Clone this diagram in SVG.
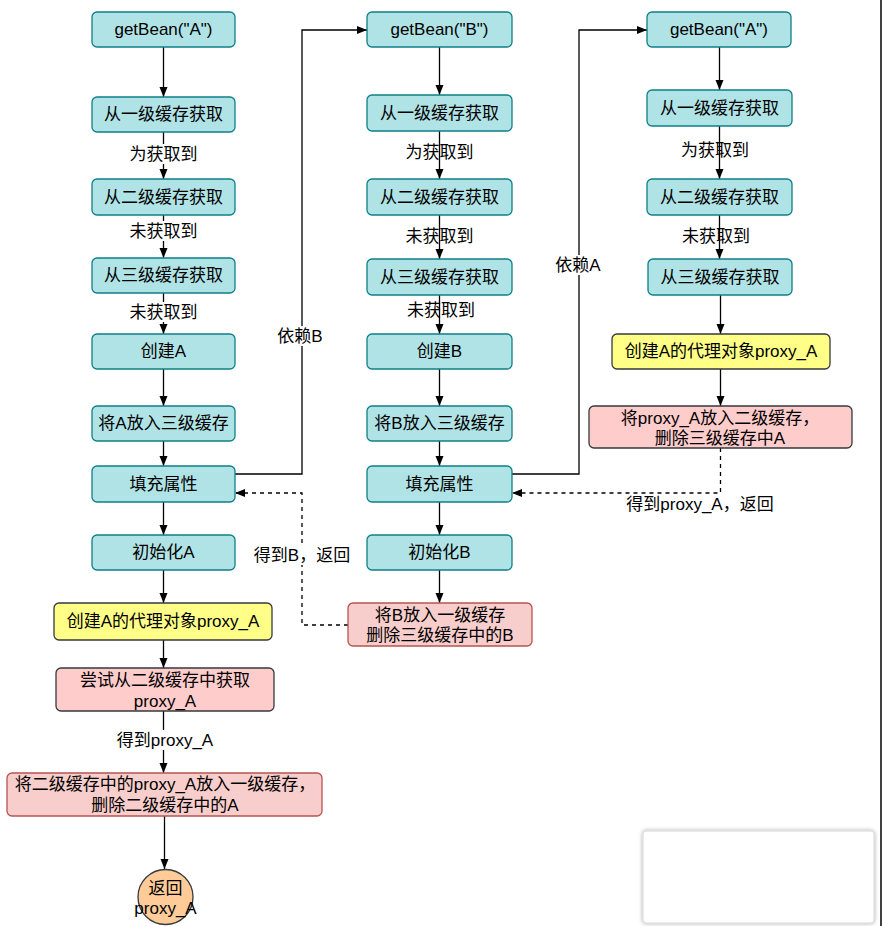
<svg xmlns="http://www.w3.org/2000/svg" width="882" height="926" viewBox="0 0 882 926">
  <style>
    text { font-family: "Liberation Sans", "Noto Sans CJK SC", sans-serif; font-size: 17px; fill: #000; text-anchor: middle; dominant-baseline: central; }
    .teal { fill: #b0e3e6; stroke: #0e8088; stroke-width: 1.3; }
    .yellow { fill: #ffff88; stroke: #36393d; stroke-width: 1.3; }
    .pink { fill: #ffcccc; stroke: #36393d; stroke-width: 1.3; }
    .rose { fill: #f8cecc; stroke: #b85450; stroke-width: 1.3; }
    .peach { fill: #ffcc99; stroke: #36393d; stroke-width: 1.3; }
    .edge { fill: none; stroke: #000; stroke-width: 1.3; }
    .dash { stroke-dasharray: 4 4; }
    .lbg { fill: #fff; }
  </style>
  <defs>
    <marker id="arrow" viewBox="0 0 10 10" refX="10" refY="5" markerWidth="10" markerHeight="10" markerUnits="userSpaceOnUse" orient="auto">
      <path d="M0,1 L10,5 L0,9 Z" fill="#000"/>
    </marker>
    <filter id="soft" x="-10%" y="-20%" width="120%" height="140%">
      <feGaussianBlur in="SourceAlpha" stdDeviation="2"/>
      <feComponentTransfer><feFuncA type="linear" slope="0.35"/></feComponentTransfer>
      <feMerge><feMergeNode/><feMergeNode in="SourceGraphic"/></feMerge>
    </filter>
  </defs>

  <rect x="0" y="0" width="882" height="926" fill="#fff"/>

  <!-- connectors -->
  <g id="connectors">
    <!-- left column -->
    <path class="edge" d="M163.5,47 V97" marker-end="url(#arrow)"/>
    <path class="edge" d="M163.5,132 V179" marker-end="url(#arrow)"/>
    <path class="edge" d="M163.5,215 V258" marker-end="url(#arrow)"/>
    <path class="edge" d="M163.5,293 V334" marker-end="url(#arrow)"/>
    <path class="edge" d="M163.5,369 V406" marker-end="url(#arrow)"/>
    <path class="edge" d="M163.5,441 V466" marker-end="url(#arrow)"/>
    <path class="edge" d="M163.5,502 V535" marker-end="url(#arrow)"/>
    <path class="edge" d="M163.5,570 V603" marker-end="url(#arrow)"/>
    <path class="edge" d="M163.5,640 V668" marker-end="url(#arrow)"/>
    <path class="edge" d="M163.5,711 V773" marker-end="url(#arrow)"/>
    <path class="edge" d="M164.5,816 V869" marker-end="url(#arrow)"/>
    <!-- middle column -->
    <path class="edge" d="M439.5,47 V95" marker-end="url(#arrow)"/>
    <path class="edge" d="M439.5,131 V179" marker-end="url(#arrow)"/>
    <path class="edge" d="M439.5,215 V259" marker-end="url(#arrow)"/>
    <path class="edge" d="M439.5,295 V334" marker-end="url(#arrow)"/>
    <path class="edge" d="M439.5,369 V406" marker-end="url(#arrow)"/>
    <path class="edge" d="M439.5,441 V466" marker-end="url(#arrow)"/>
    <path class="edge" d="M439.5,502 V535" marker-end="url(#arrow)"/>
    <path class="edge" d="M439.5,570 V603" marker-end="url(#arrow)"/>
    <!-- right column -->
    <path class="edge" d="M719.5,47 V90" marker-end="url(#arrow)"/>
    <path class="edge" d="M719.5,126 V179" marker-end="url(#arrow)"/>
    <path class="edge" d="M719.5,215 V259" marker-end="url(#arrow)"/>
    <path class="edge" d="M720.5,295 V334" marker-end="url(#arrow)"/>
    <path class="edge" d="M720.5,369 V406" marker-end="url(#arrow)"/>
    <!-- dependency calls -->
    <path class="edge" d="M235,474 H302 V30 H367" marker-end="url(#arrow)"/>
    <path class="edge" d="M512,474 H579 V30 H647" marker-end="url(#arrow)"/>
    <!-- returns -->
    <path class="edge dash" d="M348,625 H302 V493 H235" marker-end="url(#arrow)"/>
    <path class="edge dash" d="M720.5,448 V493 H512" marker-end="url(#arrow)"/>

    <!-- edge labels -->
    <rect class="lbg" x="128" y="144" width="70" height="20"/>
    <text x="163.5" y="154">为获取到</text>
    <rect class="lbg" x="128" y="221" width="70" height="20"/>
    <text x="163.5" y="231">未获取到</text>
    <rect class="lbg" x="128" y="302" width="70" height="20"/>
    <text x="163.5" y="312">未获取到</text>
    <rect class="lbg" x="114" y="730" width="100" height="20"/>
    <text x="165" y="740">得到proxy_A</text>

    <text x="439.5" y="152">为获取到</text>
    <text x="439.5" y="236">未获取到</text>
    <text x="441" y="310">未获取到</text>

    <text x="715" y="150">为获取到</text>
    <text x="716" y="236">未获取到</text>

    <rect class="lbg" x="275" y="326" width="52" height="20"/>
    <text x="300" y="336">依赖B</text>
    <rect class="lbg" x="554" y="255" width="50" height="20"/>
    <text x="578" y="265">依赖A</text>
    <rect class="lbg" x="256" y="545" width="92" height="20"/>
    <text x="302" y="555">得到B，返回</text>
    <rect class="lbg" x="624" y="494" width="152" height="20"/>
    <text x="700" y="504">得到proxy_A，返回</text>
  </g>

  <!-- left column: getBean("A") -->
  <g id="a-getbean"><rect class="teal" x="92" y="12" width="143" height="35" rx="5"/><text x="163.5" y="29.5">getBean("A")</text></g>
  <g id="a-l1"><rect class="teal" x="92" y="97" width="143" height="35" rx="5"/><text x="163.5" y="114.5">从一级缓存获取</text></g>
  <g id="a-l2"><rect class="teal" x="92" y="179" width="143" height="36" rx="5"/><text x="163.5" y="197">从二级缓存获取</text></g>
  <g id="a-l3"><rect class="teal" x="92" y="258" width="143" height="35" rx="5"/><text x="163.5" y="275.5">从三级缓存获取</text></g>
  <g id="a-create"><rect class="teal" x="92" y="334" width="143" height="35" rx="5"/><text x="163.5" y="351.5">创建A</text></g>
  <g id="a-put3"><rect class="teal" x="92" y="406" width="143" height="35" rx="5"/><text x="163.5" y="423.5">将A放入三级缓存</text></g>
  <g id="a-populate"><rect class="teal" x="92" y="466" width="143" height="36" rx="5"/><text x="163.5" y="484">填充属性</text></g>
  <g id="a-init"><rect class="teal" x="92" y="535" width="143" height="35" rx="5"/><text x="163.5" y="552.5">初始化A</text></g>
  <g id="a-proxy"><rect class="yellow" x="54" y="603" width="218" height="37" rx="5"/><text x="163" y="621.5">创建A的代理对象proxy_A</text></g>
  <g id="a-try2"><rect class="pink" x="56" y="668" width="218" height="43" rx="5"/><text x="165" y="680">尝试从二级缓存中获取</text><text x="165" y="701">proxy_A</text></g>
  <g id="a-move1"><rect class="rose" x="7" y="773" width="315" height="43" rx="5"/><text x="165" y="784.5">将二级缓存中的proxy_A放入一级缓存，</text><text x="165" y="805">删除二级缓存中的A</text></g>
  <g id="a-return"><circle class="peach" cx="165.5" cy="897" r="27.5"/><text x="165.5" y="888">返回</text><text x="165.5" y="908">proxy_A</text></g>

  <!-- middle column: getBean("B") -->
  <g id="b-getbean"><rect class="teal" x="367" y="12" width="145" height="35" rx="5"/><text x="439.5" y="29.5">getBean("B")</text></g>
  <g id="b-l1"><rect class="teal" x="367" y="95" width="145" height="36" rx="5"/><text x="439.5" y="113">从一级缓存获取</text></g>
  <g id="b-l2"><rect class="teal" x="367" y="179" width="145" height="36" rx="5"/><text x="439.5" y="197">从二级缓存获取</text></g>
  <g id="b-l3"><rect class="teal" x="367" y="259" width="145" height="36" rx="5"/><text x="439.5" y="277">从三级缓存获取</text></g>
  <g id="b-create"><rect class="teal" x="367" y="334" width="145" height="35" rx="5"/><text x="439.5" y="351.5">创建B</text></g>
  <g id="b-put3"><rect class="teal" x="367" y="406" width="145" height="35" rx="5"/><text x="439.5" y="423.5">将B放入三级缓存</text></g>
  <g id="b-populate"><rect class="teal" x="367" y="466" width="145" height="36" rx="5"/><text x="439.5" y="484">填充属性</text></g>
  <g id="b-init"><rect class="teal" x="367" y="535" width="145" height="35" rx="5"/><text x="439.5" y="552.5">初始化B</text></g>
  <g id="b-move1"><rect class="rose" x="348" y="603" width="184" height="43" rx="5"/><text x="440" y="615">将B放入一级缓存</text><text x="440" y="635">删除三级缓存中的B</text></g>

  <!-- right column: getBean("A") again -->
  <g id="a2-getbean"><rect class="teal" x="647" y="12" width="144" height="35" rx="5"/><text x="719" y="29.5">getBean("A")</text></g>
  <g id="a2-l1"><rect class="teal" x="647" y="90" width="145" height="36" rx="5"/><text x="719.5" y="108">从一级缓存获取</text></g>
  <g id="a2-l2"><rect class="teal" x="647" y="179" width="145" height="36" rx="5"/><text x="719.5" y="197">从二级缓存获取</text></g>
  <g id="a2-l3"><rect class="teal" x="648" y="259" width="144" height="36" rx="5"/><text x="720" y="277">从三级缓存获取</text></g>
  <g id="a2-proxy"><rect class="yellow" x="612" y="334" width="218" height="35" rx="5"/><text x="721" y="351.5">创建A的代理对象proxy_A</text></g>
  <g id="a2-put2"><rect class="pink" x="589" y="406" width="263" height="42" rx="5"/><text x="720" y="418">将proxy_A放入二级缓存，</text><text x="720" y="438">删除三级缓存中A</text></g>

  <!-- empty panel in the lower right corner -->
  <rect x="643" y="831" width="231" height="92" rx="3" fill="#fff" stroke="#d8d8d8" stroke-width="1" filter="url(#soft)"/>
  <!-- right border line -->
  <line x1="881" y1="0" x2="881" y2="926" stroke="#000" stroke-width="1.5"/>
</svg>
